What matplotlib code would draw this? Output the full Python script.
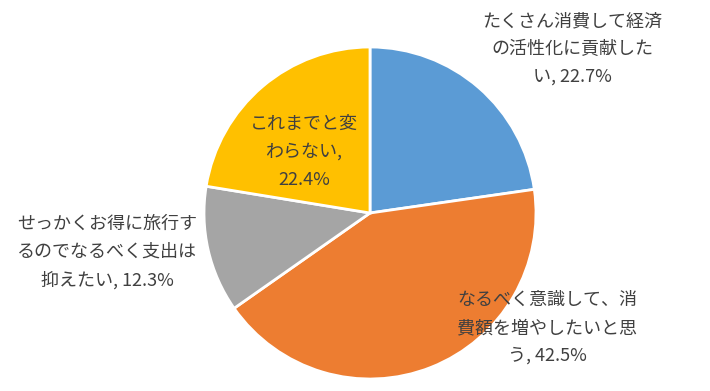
import matplotlib
matplotlib.use("Agg")
import matplotlib.pyplot as plt

plt.rcParams['font.family'] = ['Noto Sans CJK JP', 'DejaVu Sans']

labels = ["たくさん消費して経済\nの活性化に貢献した\nい, 22.7%",
          "なるべく意識して、消\n費額を増やしたいと思\nう, 42.5%",
          "せっかくお得に旅行す\nるのでなるべく支出は\n抑えたい, 12.3%",
          "これまでと変\nわらない,\n22.4%"]
values = [22.7, 42.5, 12.3, 22.4]
colors = ["#5B9BD5", "#ED7D31", "#A5A5A5", "#FFC000"]

# label centres in pixels (x, y from top)
label_pos = [(572, 49), (547, 328), (107, 252), (304, 152)]

W, H = 710, 391
fig = plt.figure(figsize=(W / 100, H / 100), dpi=100)

cx, cy, r = 370, 213, 166
ax = fig.add_axes([(cx - r) / W, 1 - (cy + r) / H, 2 * r / W, 2 * r / H])
ax.pie(values, colors=colors, startangle=90, counterclock=False,
       wedgeprops=dict(edgecolor="white", linewidth=2))
ax.set_aspect("auto")
ax.set_xlim(-1, 1)
ax.set_ylim(-1, 1)
ax.axis("off")

for lab, (px, py) in zip(labels, label_pos):
    fig.text(px / W, 1 - py / H, lab, ha="center", va="center",
             fontsize=13, color="#404040", linespacing=1.72)

fig.savefig("out.png", dpi=100)
